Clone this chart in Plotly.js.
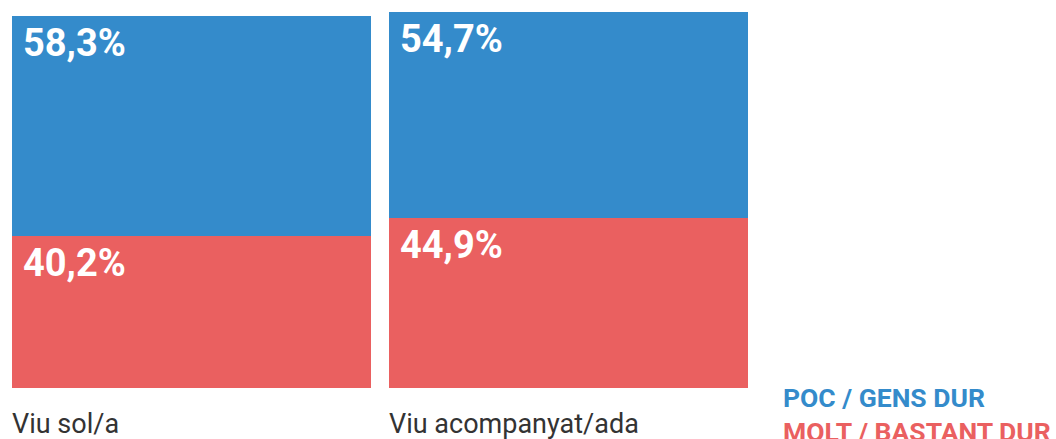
<!DOCTYPE html>
<html>
<head>
<meta charset="utf-8">
<script src="https://cdn.plot.ly/plotly-3.0.1.min.js"></script>
<style>html,body{margin:0;padding:0;background:#fff;}#chart{width:1056px;height:439px;}</style>
</head>
<body>
<div id="chart"></div>
<script>
const categories = ["Viu sol/a", "Viu acompanyat/ada"];
const seriesNames = ["MOLT / BASTANT DUR", "POC / GENS DUR"];
const moltBastant = [40.2, 44.9];
const pocGens = [58.3, 54.7];
const colors = ["#ea6060", "#348bcb"];

const fmt = v => v.toFixed(1).replace('.', ',') + '%';
const barWidth = 0.952;
const xs = categories.map((c, i) => i);

const traces = [
  {type: 'bar', name: seriesNames[0], x: xs, y: moltBastant, width: barWidth,
   marker: {color: colors[0]}, hoverinfo: 'none'},
  {type: 'bar', name: seriesNames[1], x: xs, y: pocGens, width: barWidth,
   marker: {color: colors[1]}, hoverinfo: 'none'}
];

const annotations = [];
const labelFont = {family: 'Roboto', size: 38, color: '#ffffff', weight: 700};
xs.forEach((x, i) => {
  const left = x - barWidth / 2;
  annotations.push({xref: 'x', yref: 'y', x: left, y: moltBastant[i], text: '<b>' + fmt(moltBastant[i]) + '</b>',
    xanchor: 'left', yanchor: 'top', xshift: 9, yshift: -3, showarrow: false, font: labelFont});
  annotations.push({xref: 'x', yref: 'y', x: left, y: moltBastant[i] + pocGens[i], text: '<b>' + fmt(pocGens[i]) + '</b>',
    xanchor: 'left', yanchor: 'top', xshift: 9, yshift: -3, showarrow: false, font: labelFont});
  annotations.push({xref: 'x', yref: 'paper', x: left, y: 0, text: categories[i],
    xanchor: 'left', yanchor: 'top', xshift: -2, yshift: -18, showarrow: false,
    font: {family: 'Roboto', size: 27, color: '#333333'}});
});
// legend as colored text
annotations.push({xref: 'paper', yref: 'paper', x: 1, y: 0, text: '<b>' + seriesNames[1] + '</b>',
  xanchor: 'left', yanchor: 'top', xshift: 24, yshift: 8, showarrow: false,
  font: {family: 'Roboto', size: 26.5, color: colors[1]}});
annotations.push({xref: 'paper', yref: 'paper', x: 1, y: 0, text: '<b>' + seriesNames[0] + '</b>',
  xanchor: 'left', yanchor: 'top', xshift: 24, yshift: -26, showarrow: false,
  font: {family: 'Roboto', size: 26.5, color: colors[0]}});

const layout = {
  width: 1056, height: 439,
  margin: {l: 3, r: 299, t: 9.5, b: 51, pad: 0},
  barmode: 'stack',
  showlegend: false,
  paper_bgcolor: '#ffffff', plot_bgcolor: '#ffffff',
  xaxis: {range: [-0.5, 1.5], showticklabels: false, showgrid: false, zeroline: false, showline: false, ticks: ''},
  yaxis: {range: [0, 100], showticklabels: false, showgrid: false, zeroline: false, showline: false, ticks: ''},
  annotations: annotations
};

Plotly.newPlot('chart', traces, layout, {displayModeBar: false, staticPlot: true});
</script>
</body>
</html>
